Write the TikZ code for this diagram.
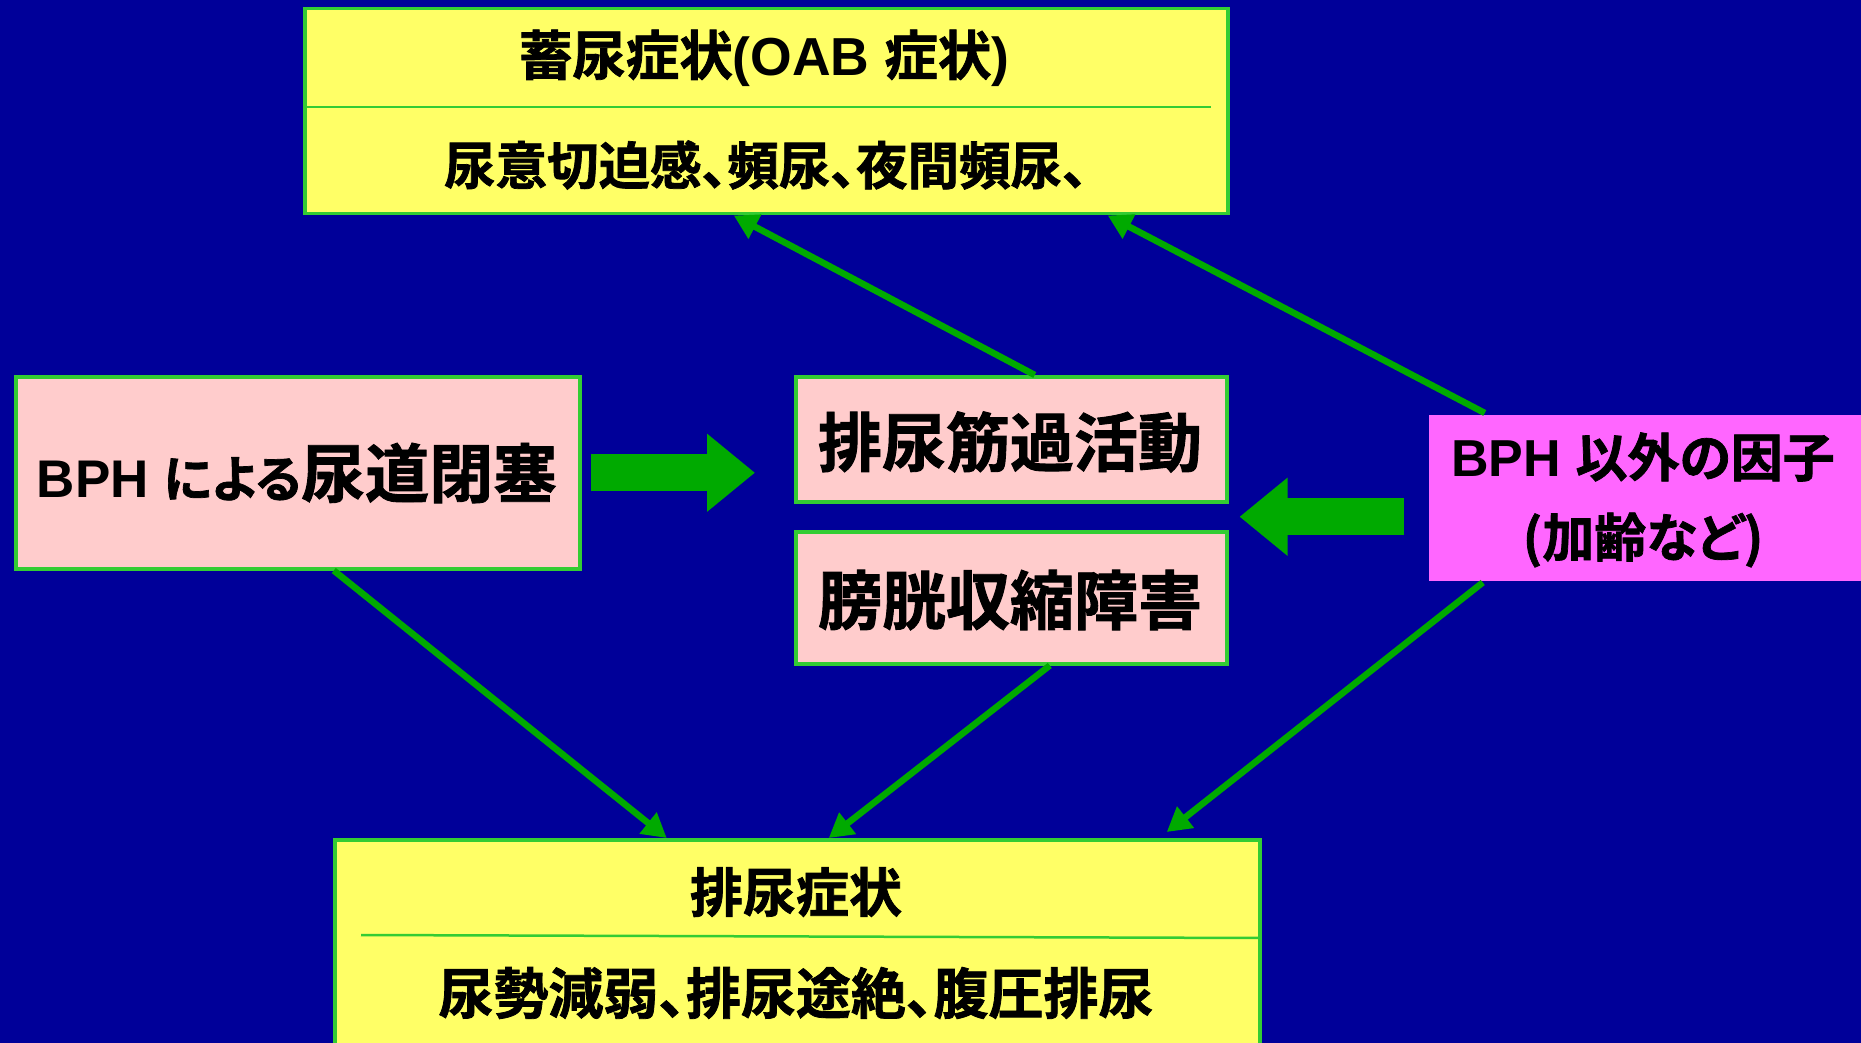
\documentclass[tikz,border=0pt]{standalone}
\usepackage{fontspec}
\newfontfamily\jp{Noto Sans CJK JP Bold}[RawFeature=+palt,FakeBold=1.4]
\newfontfamily\lat{Liberation Sans Bold}
\usetikzlibrary{arrows.meta,calc}
\definecolor{bg}{HTML}{000099}
\definecolor{bd}{HTML}{33CC33}
\definecolor{ar}{HTML}{00AA00}
\definecolor{yel}{HTML}{FFFF66}
\definecolor{pnk}{HTML}{FFCCCC}
\definecolor{mag}{HTML}{FF66FF}
\begin{document}
\begin{tikzpicture}[x=1pt,y=-1pt,
  box/.style={draw=bd, line width=3.5pt, inner sep=0pt, anchor=north west},
  lbl/.style={text=black, inner sep=0pt},
  thinarrow/.style={draw=ar, line width=6.5pt, -{Triangle[length=24pt,width=26pt]}},
  fatarrow/.style={draw=ar, line width=37pt, -{Triangle[length=48pt,width=75pt]}},
  divline/.style={draw=bd, line width=2.5pt}]
\fill[bg] (0,0) rectangle (1861,1043);
\useasboundingbox (0,0) rectangle (1861,1043);
\clip (0,0) rectangle (1861,1043);

% boxes
\node[box, fill=yel, minimum width=923pt, minimum height=205pt] (stor) at (303,7) {};
\node[box, fill=pnk, minimum width=564pt, minimum height=192pt] (obst) at (14,375) {};
\node[box, fill=pnk, minimum width=431pt, minimum height=125pt] (over) at (794,375) {};
\node[box, fill=pnk, minimum width=431pt, minimum height=132pt] (weak) at (794,530) {};
\node[box, draw=none, fill=mag, minimum width=450pt, minimum height=166pt] (other) at (1427,413) {};
\node[box, fill=yel, minimum width=925pt, minimum height=215pt] (void) at (333,838) {};

% dividers
\draw[divline] ([yshift=-100pt]stor.north west) -- ++(908,0);
\draw[divline] ([xshift=28pt,yshift=-97pt]void.north west) -- ([yshift=-100pt]void.north east);

% texts
\node[lbl, font={\jp\fontsize{53.5}{60}\selectfont}] (t1) at (764,58) {蓄尿症状{\lat (OAB }症状{\lat )}};
\node[lbl, font={\jp\fontsize{51.5}{58}\selectfont}] (t2) at (766,165) {尿意切迫感、頻尿、夜間頻尿、};
\node[lbl, font=\jp] (t3) at (297,473) {{\lat\fontsize{53}{56}\selectfont BPH }{\fontsize{50}{56}\selectfont による}{\fontsize{64}{70}\selectfont 尿道閉塞}};
\node[lbl, font={\jp\fontsize{64}{70}\selectfont}] (t4) at (1010,442) {排尿筋過活動};
\node[lbl, font={\jp\fontsize{64}{70}\selectfont}] (t5) at (1010,600) {膀胱収縮障害};
\node[lbl, font={\jp\fontsize{52}{60}\selectfont}] (t6) at (1643,457) {{\lat BPH }以外の因子};
\node[lbl, font={\jp\fontsize{52}{60}\selectfont}] (t7) at (1643,540) {(加齢など)};
\node[lbl, font={\jp\fontsize{53}{60}\selectfont}] (t8) at (796,892) {排尿症状};
\node[lbl, font={\jp\fontsize{55}{62}\selectfont}] (t9) at (796,993) {尿勢減弱、排尿途絶、腹圧排尿};

% fat arrows
\coordinate (gap) at ($(over.south east)!0.5!(weak.north east)$);
\draw[fatarrow] ([xshift=9pt]obst.east) -- ([xshift=-39pt]obst.east -| over.west);
\draw[fatarrow] ([xshift=-23pt]gap -| other.west) -- ([xshift=11pt]gap);

% thin arrows
\draw[thinarrow] ([xshift=23.5pt]over.north) -- ([xshift=-32.5pt]stor.south);
\draw[thinarrow] ([xshift=-169pt]other.north) -- ([xshift=341.5pt]stor.south);
\draw[thinarrow] ([xshift=36pt]obst.south) -- ([xshift=-130.5pt]void.north);
\draw[thinarrow] ([xshift=38.5pt]weak.south) -- ([xshift=31.5pt]void.north);
\draw[thinarrow] ([xshift=-171pt]other.south) -- ([xshift=369.5pt,yshift=6pt]void.north);
\end{tikzpicture}
\end{document}
